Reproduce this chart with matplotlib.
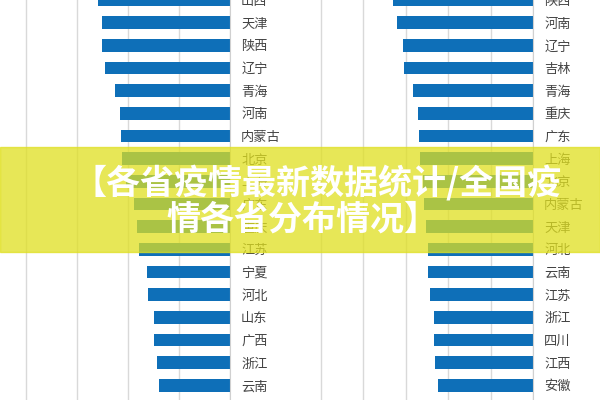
import matplotlib.pyplot as plt
from matplotlib.patches import Rectangle

plt.rcParams['font.family'] = ['Noto Sans CJK SC', 'DejaVu Sans']

left_names = ['山西', '天津', '陕西', '辽宁', '青海', '河南', '内蒙古', '北京', '上海',
              '广东', '重庆', '江苏', '宁夏', '河北', '山东', '广西', '浙江', '云南']
left_vals = [258, 251, 251, 245, 225, 216, 214, 212, 204,
             188, 182, 178, 163, 161, 150, 149, 143, 140]

right_names = ['陕西', '河南', '辽宁', '吉林', '青海', '重庆', '广东', '上海', '北京',
               '内蒙古', '天津', '河北', '云南', '江苏', '浙江', '四川', '江西', '安徽']
right_vals = [330, 320, 306, 304, 282, 271, 268, 266, 260,
              256, 252, 247, 247, 242, 233, 233, 231, 224]

blue = '#0e6fb8'
W, H = 600, 400
fig = plt.figure(figsize=(6, 4), dpi=100)

def panel(x0, x1, px_per_grid, names, vals):
    ax = fig.add_axes([x0 / W, 0, (x1 - x0) / W, 1])
    ys = list(range(-1, len(names) - 1))
    ax.barh(ys, vals, height=0.55, color=blue, zorder=2)
    ax.set_xticks(range(0, 700, 100))
    ax.set_xlim((x1 - x0) / px_per_grid * 100, 0)
    ax.set_ylim(16.65, -0.74)
    ax.xaxis.grid(True, color='#d9d9d9', lw=1, zorder=0)
    ax.tick_params(axis='x', length=0, labelbottom=False)
    ax.yaxis.tick_right()
    ax.set_yticks(ys)
    ax.set_yticklabels(names, fontsize=9.5, color='#444444')
    ax.tick_params(axis='y', length=0, pad=8)
    for s in ['top', 'bottom', 'left']:
        ax.spines[s].set_visible(False)
    ax.spines['right'].set_color('#d0d0d0')
    ax.patch.set_alpha(0)

panel(0, 230, 51, left_names, left_vals)
panel(300, 533, 42.5, right_names, right_vals)

# yellow banner overlay
fig.patches.append(Rectangle((0, (H - 252) / H), 1, 105 / H, transform=fig.transFigure,
                             color=(0.88, 0.88, 0.12), alpha=0.75, zorder=5))
fig.text(317 / W, (H - 183) / H, '【各省疫情最新数据统计/全国疫', ha='center', va='center',
         fontsize=24.5, fontweight='heavy', color='white', zorder=6)
fig.text(302 / W, (H - 219) / H, '情各省分布情况】', ha='center', va='center',
         fontsize=24.5, fontweight='heavy', color='white', zorder=6)

fig.savefig('out.png', dpi=100)
